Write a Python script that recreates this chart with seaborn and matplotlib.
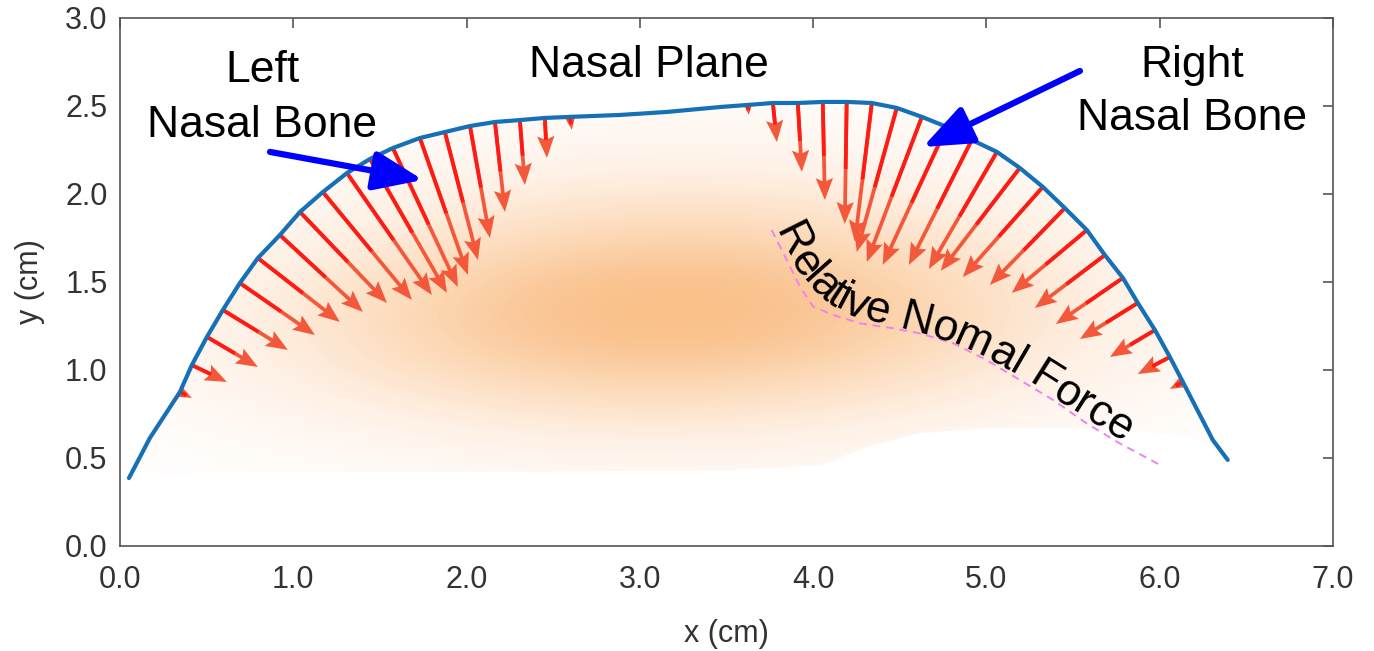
import numpy as np
import matplotlib
matplotlib.use('Agg')
import matplotlib.pyplot as plt
import seaborn as sns
from matplotlib.colors import LinearSegmentedColormap
from matplotlib.patches import Polygon
from matplotlib.collections import LineCollection
from matplotlib.ticker import FormatStrFormatter

# nasal profile (cm)
profile_x = [0.052, 0.173, 0.346, 0.415, 0.502, 0.594, 0.692, 0.796, 0.923, 1.039,
             1.171, 1.310, 1.443, 1.575, 1.731, 1.875, 2.020, 2.164, 2.308, 2.452,
             2.597, 2.885, 3.156, 3.462, 3.624, 3.768, 3.912, 4.056, 4.194, 4.339,
             4.483, 4.628, 4.772, 4.916, 5.061, 5.193, 5.326, 5.453, 5.580, 5.684,
             5.788, 5.874, 5.973, 6.059, 6.134, 6.307, 6.393]
profile_y = [0.386, 0.614, 0.875, 1.028, 1.188, 1.341, 1.494, 1.636, 1.767, 1.898,
             2.011, 2.119, 2.199, 2.261, 2.318, 2.352, 2.386, 2.409, 2.420, 2.432,
             2.438, 2.449, 2.466, 2.494, 2.506, 2.517, 2.517, 2.523, 2.523, 2.517,
             2.489, 2.438, 2.381, 2.307, 2.239, 2.148, 2.040, 1.920, 1.795, 1.653,
             1.523, 1.381, 1.227, 1.074, 0.932, 0.602, 0.489]

# left nasal bone force arrows: tail on the profile, tip inside
left_tail_x = [0.346, 0.415, 0.502, 0.594, 0.692, 0.796, 0.923, 1.039, 1.171, 1.310,
               1.443, 1.575, 1.731, 1.875, 2.020, 2.164, 2.308, 2.452, 2.597]
left_tail_y = [0.875, 1.028, 1.188, 1.341, 1.494, 1.636, 1.767, 1.898, 2.011, 2.119,
               2.199, 2.261, 2.318, 2.352, 2.386, 2.409, 2.420, 2.432, 2.438]
left_tip_x = [0.415, 0.617, 0.796, 0.969, 1.125, 1.269, 1.402, 1.541, 1.685, 1.800,
              1.887, 1.950, 2.008, 2.066, 2.135, 2.222, 2.337, 2.464, 2.608]
left_tip_y = [0.841, 0.932, 1.017, 1.114, 1.199, 1.273, 1.330, 1.381, 1.398, 1.426,
              1.438, 1.472, 1.540, 1.625, 1.750, 1.898, 2.051, 2.205, 2.364]

# right nasal bone force arrows
right_tail_x = [3.624, 3.768, 3.912, 4.056, 4.194, 4.339, 4.483, 4.628, 4.772, 4.916,
                5.061, 5.193, 5.326, 5.453, 5.580, 5.684, 5.788, 5.874, 5.973, 6.059, 6.134]
right_tail_y = [2.506, 2.517, 2.517, 2.523, 2.523, 2.517, 2.489, 2.438, 2.381, 2.307,
                2.239, 2.148, 2.040, 1.920, 1.795, 1.653, 1.523, 1.381, 1.227, 1.074, 0.932]
right_tip_x = [3.629, 3.791, 3.935, 4.068, 4.183, 4.241, 4.252, 4.310, 4.402, 4.553,
               4.668, 4.737, 4.864, 5.020, 5.147, 5.280, 5.401, 5.540, 5.713, 5.874, 6.059]
right_tip_y = [2.449, 2.295, 2.125, 1.966, 1.830, 1.727, 1.670, 1.614, 1.597, 1.597,
               1.574, 1.563, 1.528, 1.483, 1.438, 1.352, 1.261, 1.176, 1.074, 0.977, 0.892]

# dashed guide for the relative normal force label
force_x = [3.761, 3.848, 3.924, 4.001, 4.116, 4.270, 4.462, 4.616, 4.809, 5.001,
           5.193, 5.385, 5.578, 5.770, 6.020]
force_y = [1.795, 1.625, 1.473, 1.360, 1.313, 1.265, 1.237, 1.208, 1.152, 1.057,
           0.943, 0.830, 0.697, 0.583, 0.451]

# soft orange pressure glow (centres and weights)
glow_x = [3.2, 2.3, 4.1, 1.4, 5.1, 3.2, 3.2, 2.0, 4.6, 1.5, 5.0]
glow_y = [1.35, 1.30, 1.35, 1.25, 1.25, 0.75, 2.00, 1.90, 1.90, 0.85, 0.90]
glow_w = [4, 3, 3, 1.2, 1.2, 1.5, 1.5, 1, 1, 0.6, 0.6]
glow_floor_x = [6.2, 5.8, 5.4, 5.0, 4.6, 4.3, 4.05, 3.5, 2.0, 0.5]
glow_floor_y = [0.62, 0.66, 0.67, 0.67, 0.64, 0.56, 0.46, 0.43, 0.42, 0.42]

x_ticks = [0, 1, 2, 3, 4, 5, 6, 7]
y_ticks = [0, 0.5, 1.0, 1.5, 2.0, 2.5, 3.0]

sns.set_theme(style='white')
plt.rcParams['font.family'] = ['Liberation Sans', 'DejaVu Sans']


def text_on_path(ax, text, px, py, fontsize, start=2, offset=2, smooth=55):
    fig = ax.figure
    fig.canvas.draw()
    renderer = fig.canvas.get_renderer()
    pts = ax.transData.transform(np.column_stack([px, py]))
    seg = np.diff(pts, axis=0)
    seglen = np.hypot(seg[:, 0], seg[:, 1])
    cum = np.concatenate([[0], np.cumsum(seglen)])

    def point_at(s):
        s = np.clip(s, 0, cum[-1])
        k = int(np.clip(np.searchsorted(cum, s) - 1, 0, len(seg) - 1))
        return pts[k] + (s - cum[k]) / seglen[k] * seg[k]

    def smooth_at(s):
        w = min(smooth, s + 1, cum[-1] - s + 1)
        return np.mean([point_at(s + k) for k in np.linspace(-w, w, 21)], axis=0)

    probe = ax.text(0, 0, 'x', fontsize=fontsize)
    wx = probe.get_window_extent(renderer).width
    starts = []
    for i in range(len(text) + 1):
        probe.set_text(text[:i] + 'x')
        starts.append(probe.get_window_extent(renderer).width - wx)
    probe.remove()

    for i, ch in enumerate(text):
        if ch == ' ':
            continue
        s = start + (starts[i] + starts[i + 1]) / 2
        a, b = smooth_at(s - 14), smooth_at(s + 14)
        d = (b - a) / np.hypot(*(b - a))
        p = smooth_at(s) + np.array([-d[1], d[0]]) * offset
        ang = np.degrees(np.arctan2(d[1], d[0]))
        xd, yd = ax.transData.inverted().transform(p)
        ax.text(xd, yd, ch, fontsize=fontsize, rotation=ang, rotation_mode='anchor',
                ha='center', va='baseline', color='black', zorder=6)


fig = plt.figure(figsize=(13.74, 6.51), dpi=100)
ax = fig.add_axes([0.0873, 0.1613, 0.8828, 0.8111])

# background glow, clipped to the inside of the profile
peach = LinearSegmentedColormap.from_list(
    'peach', ['#ffffff', '#fef0e4', '#fcd9b8', '#f9bf88'])
n_before = len(ax.collections)
sns.kdeplot(x=glow_x, y=glow_y, weights=glow_w, fill=True, cmap=peach, levels=60,
            thresh=0.01, bw_adjust=1.6, ax=ax, zorder=0)
clip_xy = np.column_stack([profile_x + glow_floor_x, profile_y + glow_floor_y])
clip_poly = Polygon(clip_xy, closed=True, transform=ax.transData)
for coll in ax.collections[n_before:]:
    coll.set_clip_path(clip_poly)

# profile curve
sns.lineplot(x=profile_x, y=profile_y, sort=False, color='#1670b5', linewidth=3.0,
             ax=ax, zorder=4)

# force arrows: orange-red heads, deeper red near the profile
for tx, ty, hx, hy in [(left_tail_x, left_tail_y, left_tip_x, left_tip_y),
                       (right_tail_x, right_tail_y, right_tip_x, right_tip_y)]:
    tx, ty, hx, hy = map(np.array, (tx, ty, hx, hy))
    u, v = hx - tx, hy - ty
    ax.quiver(tx, ty, u, v, angles='xy', scale_units='xy', scale=1,
              color='#f4583a', width=0.0031, headwidth=4.6,
              headlength=5.8, headaxislength=5.0, zorder=3)
    segs = [[(x0, y0), (x0 + 0.55 * du, y0 + 0.55 * dv)]
            for x0, y0, du, dv in zip(tx, ty, u, v)]
    ax.add_collection(LineCollection(segs, colors='#ff1a14', linewidths=2.7,
                                     capstyle='butt', zorder=3.5))

ax.plot(force_x, force_y, color='#ee82ee', linestyle=(0, (4, 3)), linewidth=1.4, zorder=5)

# annotations
txt = dict(ha='center', va='baseline', fontsize=32, color='black', zorder=6)
ax.text(0.82, 2.636, 'Left', **txt)
ax.text(0.82, 2.324, 'Nasal Bone', **txt)
ax.text(3.05, 2.665, 'Nasal Plane', **txt)
ax.text(6.19, 2.665, 'Right', **txt)
ax.text(6.19, 2.364, 'Nasal Bone', **txt)

blue = dict(arrowstyle='-|>,head_length=1.5,head_width=0.6', color='#0000ff', lw=4.5,
            mutation_scale=20, shrinkA=0, shrinkB=0)
ax.annotate('', xy=(1.748, 2.080), xytext=(0.866, 2.239), arrowprops=blue, zorder=7)
ax.annotate('', xy=(4.634, 2.267), xytext=(5.540, 2.699), arrowprops=blue, zorder=7)

# axes styling
ax.set_xlim(0, 7)
ax.set_ylim(0, 3)
ax.set_xticks(x_ticks)
ax.set_yticks(y_ticks)
ax.xaxis.set_major_formatter(FormatStrFormatter('%.1f'))
ax.yaxis.set_major_formatter(FormatStrFormatter('%.1f'))
ax.tick_params(direction='in', length=7, width=1.2, color='#555555', labelcolor='#333333',
               labelsize=22, top=True, right=True)
ax.tick_params(axis='x', pad=14)
ax.tick_params(axis='y', pad=9)
for sp in ax.spines.values():
    sp.set_color('#555555')
    sp.set_linewidth(1.2)
ax.set_xlabel('x (cm)', fontsize=22, color='#333333', labelpad=17)
ax.set_ylabel('y (cm)', fontsize=22, color='#333333', labelpad=14)

text_on_path(ax, 'Relative Nomal Force', force_x, force_y, fontsize=32)

fig.savefig('out.png', dpi=100)
